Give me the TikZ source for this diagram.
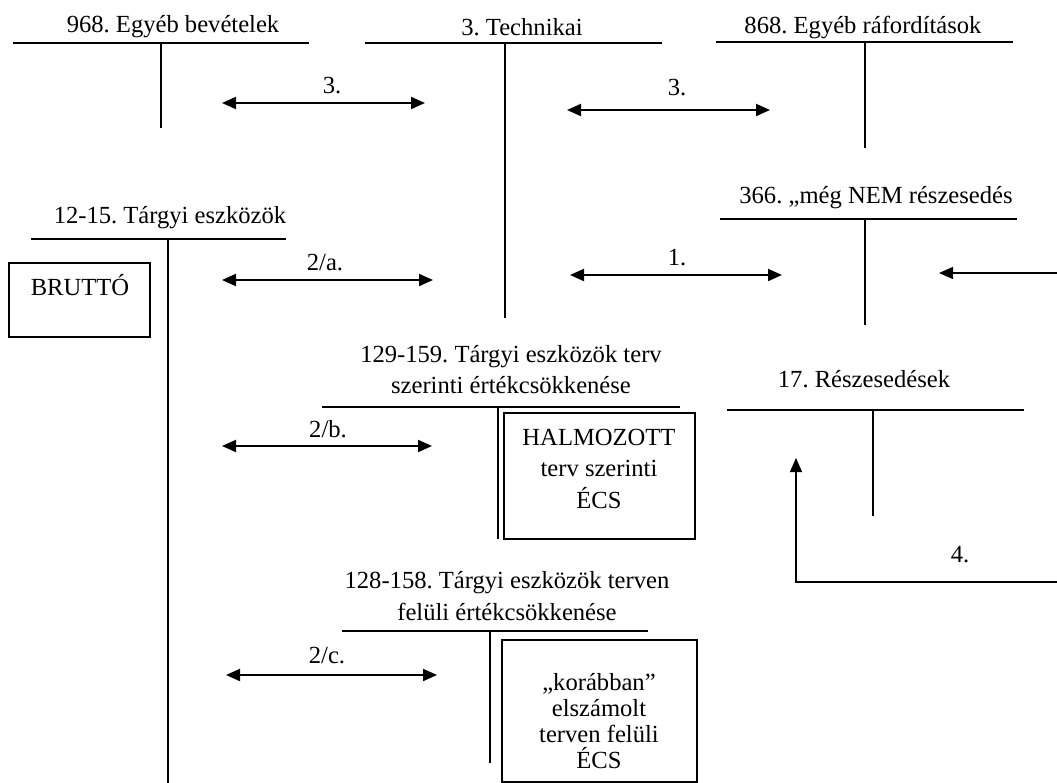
\documentclass[tikz,border=0pt]{standalone}
\usepackage{fontspec}
\setmainfont{Liberation Serif}
\usetikzlibrary{arrows.meta}
\frenchspacing

\begin{document}
\begin{tikzpicture}[
  x=0.5pt, y=-0.5pt,
  every node/.style={font=\fontsize{12.3}{15.5}\selectfont, inner sep=0pt},
  tline/.style={line width=1.1pt},
  box/.style={line width=1.1pt},
  flow/.style={line width=1pt, {Triangle[length=7pt,width=6pt]}-{Triangle[length=7pt,width=6pt]}},
  feed/.style={line width=0.65pt, -{Triangle[length=7pt,width=6pt]}},
]
\useasboundingbox (0,0) rectangle (1057,783);

% T-accounts: left/right/stem/top/bottom
\foreach \xl/\xr/\xs/\yt/\yb in {
  13/309/161/43/128,    % 968
  365/662/505/43/318,   % 3.
  716/1013/865/42/148,  % 868
  720/1017/865/219/325, % 366
  31/286/168/239/783,   % 12-15
  322/680/498/407/539,  % 129-159
  727/1024/873/410/516, % 17
  342/648/490/631/763%  % 128-158
} {
  \draw[tline] (\xl,\yt) -- (\xr,\yt);
  \draw[tline] (\xs,\yt) -- (\xs,\yb);
}

% Account titles (multi-line ones sit on their last baseline)
\node[anchor=base] (bev)  at (173,32)  {968. Egyéb bevételek};
\node[anchor=base] (tech) at (522,35)  {3. Technikai};
\node[anchor=base] (raf)  at (863,33)  {868. Egyéb ráfordítások};
\node[anchor=base] (nem)  at (876,203) {366. „még NEM részesedés};
\node[anchor=base] (targy) at (170,223) {12-15. Tárgyi eszközök};
\node[anchor=base] (resz) at (864,387) {17. Részesedések};
\node[anchor=base, align=center, font=\fontsize{12.3}{15.5}\selectfont] (tervsz) at (511,393)
  {129-159. Tárgyi eszközök terv\\ szerinti értékcsökkenése};
\node[anchor=base, align=center, font=\fontsize{12.3}{16}\selectfont] (tervf) at (507,620)
  {128-158. Tárgyi eszközök terven\\ felüli értékcsökkenése};

% Boxes
\draw[box] (9,263) rectangle (150,337);
\node[anchor=base] (brutto) at (80,295) {BRUTTÓ};
\draw[box] (504,413) rectangle (695,539);
\node[anchor=base, align=center, font=\fontsize{12.3}{15.75}\selectfont] (halm) at (599,508)
  {HALMOZOTT\\ terv szerinti\\ ÉCS};
\draw[box] (502,640) rectangle (697,782);
\node[anchor=base, align=center, font=\fontsize{12.3}{13}\selectfont] (kor) at (599,768)
  {„korábban”\\ elszámolt\\ terven felüli\\ ÉCS};

% Arrow ends
\coordinate (a1) at (222,103); \coordinate (b1) at (425,103);
\coordinate (a2) at (567,110); \coordinate (b2) at (770,110);
\coordinate (a3) at (570,275); \coordinate (b3) at (782,275);
\coordinate (a4) at (222,280); \coordinate (b4) at (433,280);
\coordinate (a5) at (222,446); \coordinate (b5) at (432,446);
\coordinate (a6) at (226,675); \coordinate (b6) at (437,675);
\coordinate (in1) at (1057,273); \coordinate (out1) at (939,273);
\coordinate (in4) at (1057,582); \coordinate (out4) at (796,458);

% Movements
\draw[flow] (a1) -- (b1);
\draw[flow] (a2) -- (b2);
\draw[flow] (a3) -- (b3);
\draw[flow] (a4) -- (b4);
\draw[flow] (a5) -- (b5);
\draw[flow] (a6) -- (b6);
\draw[feed] (in1) -- (out1);
\draw[feed] (in4) -| (out4);

% Movement numbers
\node[anchor=base] (n3a) at (332,93)  {3.};
\node[anchor=base] (n3b) at (677,95)  {3.};
\node[anchor=base] (n1)  at (677,265) {1.};
\node[anchor=base] (n2a) at (325,270) {2/a.};
\node[anchor=base] (n2b) at (328,437) {2/b.};
\node[anchor=base] (n2c) at (327,663) {2/c.};
\node[anchor=base] (n4)  at (960,562) {4.};

\end{tikzpicture}
\end{document}
